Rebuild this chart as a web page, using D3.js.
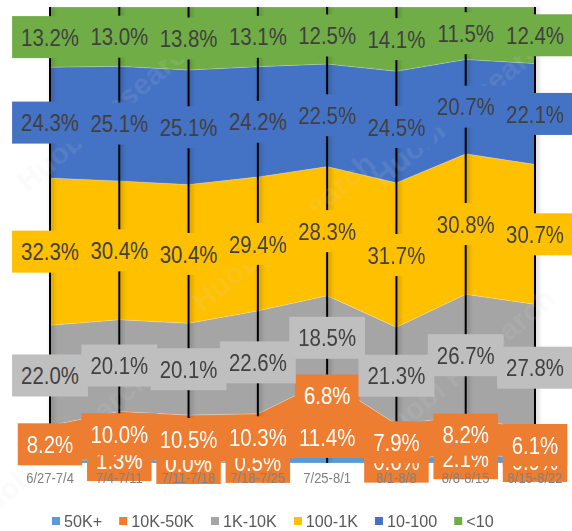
<!DOCTYPE html>
<html>
<head>
<meta charset="utf-8">
<script src="https://cdn.jsdelivr.net/npm/d3@7"></script>
<style>
  body { margin: 0; background: #fff; }
  text { font-family: "Liberation Sans", Arial, sans-serif; }
</style>
</head>
<body>
<svg id="chart" width="572" height="531"></svg>
<script>

// weekly share of each bucket (%), null = no label shown
let categories = ["6/27-7/4", "7/4-7/11", "7/11-7/18", "7/18-7/25",
                  "7/25-8/1", "8/1-8/8", "8/8-8/15", "8/15-8/22"];
let series_names = ["50K+", "10K-50K", "1K-10K", "100-1K", "10-100", "<10"];

let v_50k_plus = [null, 1.3, 0.0, 0.5, 11.4, 0.6, 2.1, 0.9];
let v_10k_50k  = [8.2, 10.0, 10.5, 10.3, 6.8, 7.9, 8.2, 6.1];
let v_1k_10k   = [22.0, 20.1, 20.1, 22.6, 18.5, 21.3, 26.7, 27.8];
let v_100_1k   = [32.3, 30.4, 30.4, 29.4, 28.3, 31.7, 30.8, 30.7];
let v_10_100   = [24.3, 25.1, 25.1, 24.2, 22.5, 24.5, 20.7, 22.1];
let v_under_10 = [13.2, 13.0, 13.8, 13.1, 12.5, 14.1, 11.5, 12.4];

let series_values = [v_50k_plus, v_10k_50k, v_1k_10k, v_100_1k, v_10_100, v_under_10];

let area_col  = { "50K+": "#5b9bd5", "10K-50K": "#ed7d31", "1K-10K": "#a5a5a5",
                  "100-1K": "#ffc000", "10-100": "#4472c4", "<10": "#70ad47" };
let box_col   = { "50K+": "#ed7d31", "10K-50K": "#ed7d31", "1K-10K": "#bfbfbf",
                  "100-1K": "#ffc000", "10-100": "#4472c4", "<10": "#70ad47" };
let label_col = { "50K+": "#ffffff", "10K-50K": "#ffffff", "1K-10K": "#404040",
                  "100-1K": "#404040", "10-100": "#404040", "<10": "#404040" };

let plot = {left: 50, right: 535, top: 7, bottom: 463};

let svg = d3.select('#chart');

let rows = categories.map((c, i) => {
    let r = {cat: c};
    series_names.forEach((s, k) => r[s] = series_values[k][i] || 0);
    return r;
});

let stacked = d3.stack()
    .keys(series_names)
    .offset(d3.stackOffsetExpand)(rows);

let x = d3.scalePoint()
    .domain(categories)
    .range([plot.left, plot.right]);

let y = d3.scaleLinear()
    .domain([0, 1])
    .range([plot.bottom, plot.top]);

let areaFunc = d3.area()
    .x(d => x(d.data.cat))
    .y0(d => y(d[0]))
    .y1(d => y(d[1]));

let defs = svg.append('defs');
let shadow = defs.append('filter').attr('id', 'shadow')
    .attr('x', '-50%').attr('y', '-5%').attr('width', '200%').attr('height', '110%');
shadow.append('feDropShadow')
    .attr('dx', 2).attr('dy', 0).attr('stdDeviation', 2)
    .attr('flood-color', '#000').attr('flood-opacity', 0.3);

// areas
svg.append('g')
    .selectAll('path')
    .data(stacked)
    .join('path')
        .attr('fill', d => area_col[d.key])
        .attr('stroke', 'rgba(255,255,255,0.3)')
        .attr('stroke-width', 0.6)
        .attr('d', areaFunc);

// drop lines at each category
svg.append('g')
    .attr('filter', 'url(#shadow)')
    .selectAll('line')
    .data(categories)
    .join('line')
        .attr('x1', d => x(d)).attr('x2', d => x(d))
        .attr('y1', y(1)).attr('y2', y(0))
        .attr('stroke', '#000')
        .attr('stroke-width', 2);

// faint watermark
let wm = svg.append('g').attr('opacity', 0.12);
[[115, 120], [290, 240], [470, 115], [470, 375], [65, 455]].forEach(p => {
    wm.append('text')
        .attr('transform', 'translate(' + p[0] + ',' + p[1] + ') rotate(-40)')
        .attr('text-anchor', 'middle')
        .attr('font-size', 30)
        .attr('font-weight', 'bold')
        .attr('fill', '#d8d8d8')
        .text('Huobi Research');
});

// data labels with filled boxes
let label_scale = 0.85;
stacked.forEach(layer => {
    let g = svg.append('g').attr('class', 'labels');
    layer.forEach((d, i) => {
        let v = series_values[layer.index][i];
        if (v === null) return;
        let cx = x(d.data.cat);
        let cy = (y(d[0]) + y(d[1])) / 2;
        let rect = g.append('rect').attr('fill', box_col[layer.key]);
        let t = g.append('text')
            .attr('transform', 'translate(' + cx + ',' + cy + ') scale(' + label_scale + ',1)')
            .attr('text-anchor', 'middle')
            .attr('dy', '0.36em')
            .attr('font-size', 24)
            .attr('fill', label_col[layer.key])
            .text(v.toFixed(1) + '%');
        let w = t.node().getComputedTextLength() * label_scale + 18;
        rect.attr('x', cx - w / 2).attr('y', cy - 21)
            .attr('width', w).attr('height', 42);
    });
});

// category axis labels
let axis_scale = 0.93;
svg.append('g')
    .selectAll('text')
    .data(categories)
    .join('text')
        .attr('transform', d => 'translate(' + x(d) + ',483) scale(' + axis_scale + ',1)')
        .attr('text-anchor', 'middle')
        .attr('font-size', 14)
        .attr('fill', '#808080')
        .text(d => d);

// legend
let legend = svg.append('g');
let lx = 52;
series_names.forEach(s => {
    legend.append('rect')
        .attr('x', lx).attr('y', 517)
        .attr('width', 8).attr('height', 8)
        .attr('fill', area_col[s]);
    let t = legend.append('text')
        .attr('transform', 'translate(' + (lx + 12) + ',527) scale(0.95,1)')
        .attr('font-size', 17)
        .attr('fill', '#595959')
        .text(s);
    lx += 12 + t.node().getComputedTextLength() * 0.95 + 17;
});

</script>
</body>
</html>
